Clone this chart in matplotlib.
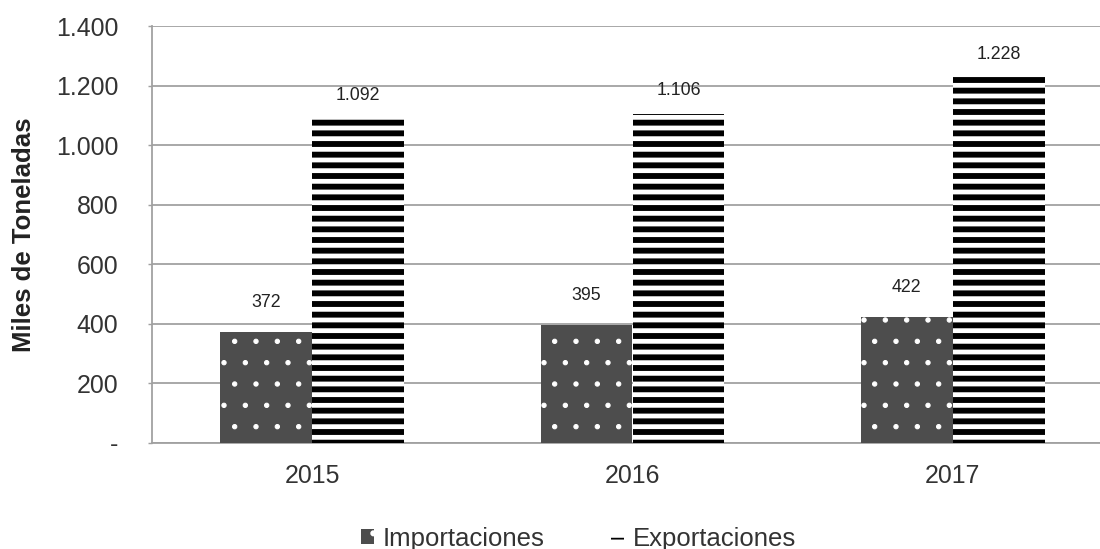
import numpy as np
import matplotlib.pyplot as plt
from matplotlib.ticker import FuncFormatter

years = ['2015', '2016', '2017']
importaciones = [372, 395, 422]
exportaciones = [1092, 1106, 1228]
y_ticks = [0, 200, 400, 600, 800, 1000, 1200, 1400]


def miles(v, pos=None):
    # thousands with a dot, zero shown as a dash
    if v == 0:
        return '-'
    return '{:,.0f}'.format(v).replace(',', '.')


plt.rcParams['font.family'] = ['Liberation Sans', 'DejaVu Sans']

DPI = 128
fig = plt.figure(figsize=(1100 / DPI, 549 / DPI), dpi=DPI)
ax = fig.add_axes([152 / 1100, 1 - 443 / 549, 961 / 1100, 417 / 549])

x = np.arange(len(years))
w = 0.287

with plt.rc_context({'hatch.linewidth': 0.6}):
    b1 = ax.bar(x - w / 2, importaciones, w, color='#4d4d4d', edgecolor='white',
                linewidth=0, hatch='.', label='Importaciones', zorder=3)
with plt.rc_context({'hatch.linewidth': 3.3}):
    b2 = ax.bar(x + w / 2, exportaciones, w, color='white', edgecolor='black',
                linewidth=0, hatch='--', label='Exportaciones', zorder=3)

for xi, v in zip(x - w / 2, importaciones):
    ax.annotate(miles(v), (xi, v), xytext=(0, 12), textcoords='offset points',
                ha='center', va='bottom', fontsize=10, color='#222222')
for xi, v in zip(x + w / 2, exportaciones):
    ax.annotate(miles(v), (xi, v), xytext=(0, 8), textcoords='offset points',
                ha='center', va='bottom', fontsize=10, color='#222222')

ax.set_xlim(-0.5, len(years) - 0.5)
ax.set_ylim(0, 1400)
ax.set_yticks(y_ticks)
ax.yaxis.set_major_formatter(FuncFormatter(miles))
ax.set_xticks(x)
ax.set_xticklabels(years)

ax.grid(axis='y', color='#a0a0a0', linewidth=1.0, zorder=0)
for s in ['top', 'right']:
    ax.spines[s].set_visible(False)
for s in ['left', 'bottom']:
    ax.spines[s].set_color('#a0a0a0')
    ax.spines[s].set_linewidth(1.0)
ax.tick_params(axis='y', length=2, color='#a0a0a0', labelsize=14, pad=17, labelcolor='#333333')
ax.tick_params(axis='x', length=0, labelsize=14, pad=12, labelcolor='#333333')

ax.set_ylabel('Miles de Toneladas', fontsize=14.5, fontweight='bold', labelpad=11, color='#222222')

fig.legend(handles=[b1, b2], loc='lower center', bbox_to_anchor=(0.526, -0.045), ncol=2,
           frameon=False, fontsize=14.5, handlelength=0.5, handleheight=0.55,
           handletextpad=0.35, columnspacing=2.6, labelcolor='#333333')

fig.savefig('out.png', dpi=DPI)
